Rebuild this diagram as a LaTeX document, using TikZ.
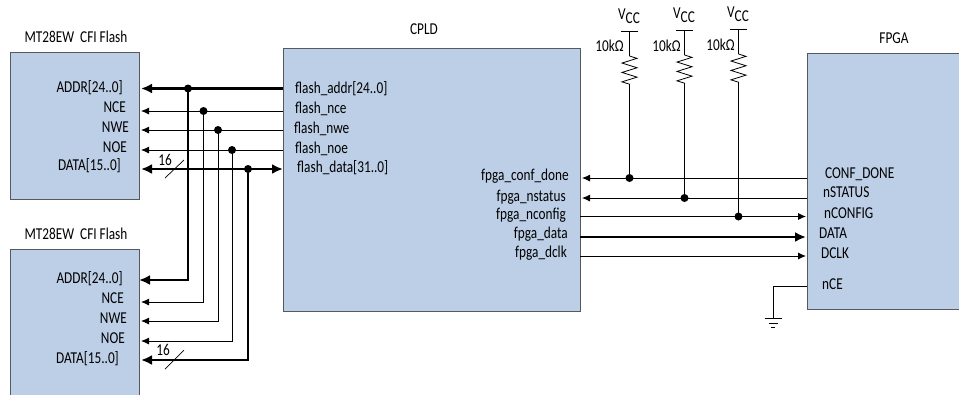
\documentclass[tikz,border=0pt]{standalone}
\usepackage{fontspec}
\setmainfont[FakeStretch=0.8]{Carlito}
\usetikzlibrary{arrows.meta}
\usetikzlibrary{decorations.pathmorphing}
\definecolor{chipblue}{HTML}{BDCFE6}
\definecolor{chipedge}{HTML}{55595F}
\tikzset{
  chip/.style={draw=chipedge,line width=1pt,fill=chipblue,inner sep=0pt,outer sep=0pt,anchor=north west},
  lbl/.style={inner sep=0pt,text height=10pt,text depth=0pt,font=\fontsize{16.6}{18}\selectfont},
  wire/.style={line width=.9pt,-{Latex[length=8pt,width=7pt]}},
  bus/.style={line width=2.2pt,-{Latex[length=11pt,width=10pt]}},
  busboth/.style={line width=2.2pt,{Latex[length=11pt,width=10pt]}-{Latex[length=11pt,width=10pt]}},
  plainwire/.style={line width=.9pt},
  plainbus/.style={line width=2.2pt},
  res/.style={line width=.8pt,decorate,decoration={zigzag,segment length=9.4pt,amplitude=7.5pt}}
}
\newcommand{\junc}[1]{\fill (#1) circle (4pt);}
\begin{document}
\begin{tikzpicture}[x=1pt,y=-1pt]
\clip (0,0) rectangle (959,394);
% boxes
\node[chip,minimum width=129pt,minimum height=147pt] (flashA) at (10,52) {};
\node[chip,minimum width=129pt,minimum height=165pt] (flashB) at (10,249) {};
\node[chip,minimum width=297pt,minimum height=263pt] (cpld) at (283,48) {};
\node[chip,minimum width=170pt,minimum height=256pt] (fpga) at (807,53) {};
% titles
\node[lbl] (titleA) at (76,37) {MT28EW\ \ CFI Flash};
\node[lbl] (titleB) at (76,234) {MT28EW\ \ CFI Flash};
\node[lbl] (titleC) at (424,29) {CPLD};
\node[lbl] (titleD) at (894,38) {FPGA};
% flash pins
\node[lbl,anchor=east] (addrA) at (123,87) {ADDR[24..0]};
\node[lbl,anchor=east] (nceA) at (126,107) {NCE};
\node[lbl,anchor=east] (nweA) at (129,127) {NWE};
\node[lbl,anchor=east] (noeA) at (127,147) {NOE};
\node[lbl,anchor=east] (dataA) at (121,165) {DATA[15..0]};
\node[lbl,anchor=east] (addrB) at (123,278) {ADDR[24..0]};
\node[lbl,anchor=east] (nceB) at (124,298) {NCE};
\node[lbl,anchor=east] (nweB) at (127,318) {NWE};
\node[lbl,anchor=east] (noeB) at (125,338) {NOE};
\node[lbl,anchor=east] (dataB) at (119,358) {DATA[15..0]};
% cpld pins
\node[lbl,anchor=west] (faddr) at (295,88) {flash\_addr[24..0]};
\node[lbl,anchor=west] (fnce) at (295,108) {flash\_nce};
\node[lbl,anchor=west] (fnwe) at (294,128) {flash\_nwe};
\node[lbl,anchor=west] (fnoe) at (295,148) {flash\_noe};
\node[lbl,anchor=west] (fdata) at (297,167) {flash\_data[31..0]};
\node[lbl,anchor=east] (pdone) at (569,175) {fpga\_conf\_done};
\node[lbl,anchor=east] (pstatus) at (566,196) {fpga\_nstatus};
\node[lbl,anchor=east] (pconfig) at (566,214) {fpga\_nconfig};
\node[lbl,anchor=east] (pdata) at (568,233) {fpga\_data};
\node[lbl,anchor=east] (pdclk) at (567,252) {fpga\_dclk};
% fpga pins
\node[lbl,anchor=west] (cdone) at (825,173) {CONF\_DONE};
\node[lbl,anchor=west] (nstat) at (823,192) {nSTATUS};
\node[lbl,anchor=west] (nconf) at (824,213) {nCONFIG};
\node[lbl,anchor=west] (ddata) at (819,233) {DATA};
\node[lbl,anchor=west] (dclk) at (821,253) {DCLK};
\node[lbl,anchor=west] (nce) at (822,284) {nCE};
% flash side wires
\coordinate (a1) at (141,88.5);
\coordinate (a2) at (283,88.5);
\coordinate (ja) at (188,88.5);
\coordinate (ea) at (188,280);
\coordinate (b1) at (139,280);
\coordinate (c1) at (141,111);
\coordinate (c2) at (283,111);
\coordinate (jc) at (203.5,111);
\coordinate (ec) at (203.5,302);
\coordinate (d1) at (141,302);
\coordinate (f1) at (141,130);
\coordinate (f2) at (283,130);
\coordinate (jf) at (218,130);
\coordinate (ef) at (218,321);
\coordinate (g1) at (141,321);
\coordinate (h1) at (141,150);
\coordinate (h2) at (283,150);
\coordinate (jh) at (232,150);
\coordinate (eh) at (232,341);
\coordinate (k1) at (141,341);
\coordinate (m1) at (141,169);
\coordinate (m2) at (283,169);
\coordinate (jm) at (248,169);
\coordinate (em) at (248,360);
\coordinate (n1) at (141,360);
\draw[bus] (a2) -- (a1);
\draw[bus] (ja) -- (ea) -- (b1);
\draw[wire] (c2) -- (c1);
\draw[wire] (jc) -- (ec) -- (d1);
\draw[wire] (f2) -- (f1);
\draw[wire] (jf) -- (ef) -- (g1);
\draw[wire] (h2) -- (h1);
\draw[wire] (jh) -- (eh) -- (k1);
\draw[busboth] (m1) -- (m2);
\draw[bus] (jm) -- (em) -- (n1);
\junc{ja} \junc{jc} \junc{jf} \junc{jh} \junc{jm}
% bus width marks
\coordinate (s1) at (165,178);
\coordinate (s2) at (184,160);
\coordinate (s3) at (165,369);
\coordinate (s4) at (184,350);
\draw[line width=.7pt] (s1) -- (s2);
\draw[line width=.7pt] (s3) -- (s4);
\node[lbl] (widthA) at (165,160) {16};
\node[lbl] (widthB) at (163,350) {16};
% fpga side wires
\coordinate (p1) at (807,178);
\coordinate (p2) at (582,178);
\coordinate (jp) at (629.5,178);
\coordinate (q1) at (807,198);
\coordinate (q2) at (582,198);
\coordinate (jq) at (684.5,198);
\coordinate (r1) at (580,216.5);
\coordinate (r2) at (806,216.5);
\coordinate (jr) at (738.5,216.5);
\coordinate (t1) at (580,237);
\coordinate (t2) at (806,237);
\coordinate (u1) at (580,256);
\coordinate (u2) at (806,256);
\draw[wire] (p1) -- (p2);
\draw[wire] (q1) -- (q2);
\draw[wire] (r1) -- (r2);
\draw[bus] (t1) -- (t2);
\draw[wire] (u1) -- (u2);
% pull ups
\coordinate (v1) at (629.5,31);
\coordinate (w1) at (629.5,56);
\coordinate (x1) at (629.5,85);
\coordinate (v2) at (684.5,30);
\coordinate (w2) at (684.5,55);
\coordinate (x2) at (684.5,84);
\coordinate (v3) at (738.5,29);
\coordinate (w3) at (738.5,54);
\coordinate (x3) at (738.5,83);
\draw[plainwire] (v1) -- (w1); \draw[res] (w1) -- (x1); \draw[plainwire] (x1) -- (jp);
\draw[plainwire] (v2) -- (w2); \draw[res] (w2) -- (x2); \draw[plainwire] (x2) -- (jq);
\draw[plainwire] (v3) -- (w3); \draw[res] (w3) -- (x3); \draw[plainwire] (x3) -- (jr);
\draw[plainwire] ([xshift=-8.5pt]v1) -- ([xshift=8.5pt]v1);
\draw[plainwire] ([xshift=-8.5pt]v2) -- ([xshift=8.5pt]v2);
\draw[plainwire] ([xshift=-8.5pt]v3) -- ([xshift=8.5pt]v3);
\junc{jp} \junc{jq} \junc{jr}
\node[lbl] (vcc1) at (629,14) {V\raisebox{-4pt}{CC}};
\node[lbl] (vcc2) at (684,13) {V\raisebox{-4pt}{CC}};
\node[lbl] (vcc3) at (738,12) {V\raisebox{-4pt}{CC}};
\node[lbl,anchor=east] (r10a) at (624,46) {10kΩ};
\node[lbl,anchor=east] (r10b) at (681,46) {10kΩ};
\node[lbl,anchor=east] (r10c) at (735,45) {10kΩ};
% ground
\coordinate (g0) at (807,286);
\coordinate (g2) at (773,286);
\coordinate (g3) at (773,318);
\draw[plainwire] (g0) -- (g2) -- (g3);
\draw[plainwire] ([xshift=-8.5pt]g3) -- ([xshift=8.5pt]g3);
\draw[plainwire] ([shift={(-4.5pt,-5pt)}]g3) -- ([shift={(4.5pt,-5pt)}]g3);
\draw[plainwire] ([shift={(-2pt,-9.5pt)}]g3) -- ([shift={(2pt,-9.5pt)}]g3);
\end{tikzpicture}
\end{document}
